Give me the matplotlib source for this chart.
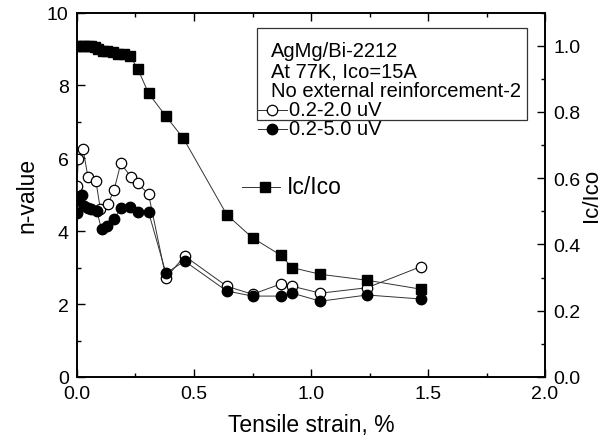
import matplotlib
matplotlib.use("Agg")
import matplotlib.pyplot as plt
from matplotlib.ticker import MultipleLocator, FormatStrFormatter
from matplotlib.patches import Rectangle
from matplotlib.lines import Line2D

plt.rcParams['font.family'] = ['Liberation Sans', 'DejaVu Sans']

# n-value, 0.2-2.0 uV criterion (open circles)
strain_open = [0.0, 0.005, 0.026, 0.047, 0.081, 0.10, 0.132, 0.158, 0.187, 0.23, 0.26, 0.306,
               0.38, 0.46, 0.64, 0.75, 0.87, 0.92, 1.04, 1.24, 1.47]
n_open = [5.25, 5.97, 6.25, 5.48, 5.37, 4.6, 4.74, 5.12, 5.86, 5.5, 5.32, 5.01,
          2.72, 3.32, 2.49, 2.27, 2.55, 2.49, 2.3, 2.45, 3.03]

# n-value, 0.2-5.0 uV criterion (filled circles)
strain_fill = [0.0, 0.01, 0.02, 0.03, 0.045, 0.06, 0.085, 0.105, 0.13, 0.158, 0.19, 0.226, 0.26, 0.306,
               0.38, 0.46, 0.64, 0.75, 0.87, 0.92, 1.04, 1.24, 1.47]
n_fill = [4.5, 4.85, 5.0, 4.7, 4.65, 4.6, 4.55, 4.05, 4.14, 4.33, 4.65, 4.66, 4.52, 4.52,
          2.85, 3.18, 2.36, 2.22, 2.22, 2.3, 2.08, 2.25, 2.14]

# Ic/Ico (filled squares, right axis)
strain_ic = [0.0, 0.015, 0.03, 0.045, 0.06, 0.075, 0.09, 0.11, 0.13, 0.155, 0.175, 0.2, 0.225,
             0.26, 0.306, 0.38, 0.455, 0.64, 0.75, 0.87, 0.92, 1.04, 1.24, 1.47]
ic_ratio = [1.0, 1.0, 1.0, 1.0, 1.0, 0.995, 0.99, 0.985, 0.985, 0.98, 0.975, 0.975, 0.97,
            0.93, 0.856, 0.787, 0.72, 0.49, 0.42, 0.368, 0.33, 0.31, 0.292, 0.265]

legend_lines = ["AgMg/Bi-2212", "At 77K, Ico=15A", "No external reinforcement-2"]

fig = plt.figure(figsize=(6.15, 4.39), dpi=100)
ax = fig.add_axes([0.1252, 0.139, 0.761, 0.830])
ax2 = ax.twinx()

lc = '#333333'
ax.plot(strain_open, n_open, '-o', color=lc, lw=0.7, ms=7.5, mfc='white', mec='black', mew=0.9, zorder=3)
ax.plot(strain_fill, n_fill, '-o', color=lc, lw=0.7, ms=7.5, mfc='black', mec='black', zorder=4)
ax2.plot(strain_ic, ic_ratio, '-s', color=lc, lw=0.7, ms=7, mfc='black', mec='black')

ax.set_xlim(0, 2.0)
ax.set_ylim(0, 10)
ax2.set_ylim(0, 1.1)

ax.xaxis.set_major_locator(MultipleLocator(0.5))
ax.xaxis.set_minor_locator(MultipleLocator(0.25))
ax.yaxis.set_major_locator(MultipleLocator(2))
ax.yaxis.set_minor_locator(MultipleLocator(1))
ax2.yaxis.set_major_locator(MultipleLocator(0.2))
ax2.yaxis.set_minor_locator(MultipleLocator(0.1))
ax.xaxis.set_major_formatter(FormatStrFormatter('%.1f'))
ax2.yaxis.set_major_formatter(FormatStrFormatter('%.1f'))

ax.tick_params(axis='both', which='both', direction='in', top=True, labelsize=14)
ax.tick_params(which='major', length=6, width=1)
ax.tick_params(which='minor', length=3, width=1)
ax.tick_params(axis='x', pad=6)
ax.tick_params(axis='y', pad=6)
ax2.tick_params(which='both', direction='in', labelsize=14, pad=6)
ax2.tick_params(which='major', length=6, width=1)
ax2.tick_params(which='minor', length=3, width=1)

for sp in ax.spines.values():
    sp.set_linewidth(1.2)
for sp in ax2.spines.values():
    sp.set_linewidth(1.2)

ax.set_xlabel("Tensile strain, %", fontsize=16.5, labelpad=8)
ax.set_ylabel("n-value", fontsize=16.5, labelpad=6)
ax2.set_ylabel("Ic/Ico", fontsize=16, labelpad=0)

# legend box
ax.add_patch(Rectangle((0.385, 0.704), 0.577, 0.253, transform=ax.transAxes,
                       fill=False, lw=0.9, ec='#333333', zorder=5))
ty = [0.896, 0.841, 0.786]
for t, yy in zip(legend_lines, ty):
    ax.text(0.415, yy, t, transform=ax.transAxes, fontsize=14.5, va='center')
ax.add_line(Line2D([0.387, 0.449], [0.734, 0.734], transform=ax.transAxes, color=lc, lw=0.7))
ax.plot([0.417], [0.734], 'o', transform=ax.transAxes, ms=7.5, mfc='white', mec='black', mew=0.9)
ax.text(0.453, 0.734, "0.2-2.0 uV", transform=ax.transAxes, fontsize=14.5, va='center')
ax.add_line(Line2D([0.387, 0.449], [0.681, 0.681], transform=ax.transAxes, color=lc, lw=0.7))
ax.plot([0.417], [0.681], 'o', transform=ax.transAxes, ms=7.5, mfc='black', mec='black')
ax.text(0.453, 0.681, "0.2-5.0 uV", transform=ax.transAxes, fontsize=14.5, va='center')

ax.add_line(Line2D([0.353, 0.434], [0.522, 0.522], transform=ax.transAxes, color=lc, lw=0.7))
ax.plot([0.402], [0.522], 's', transform=ax.transAxes, ms=7, mfc='black', mec='black')
ax.text(0.448, 0.522, "Ic/Ico", transform=ax.transAxes, fontsize=16.5, va='center')

fig.savefig("out.png", dpi=100)
